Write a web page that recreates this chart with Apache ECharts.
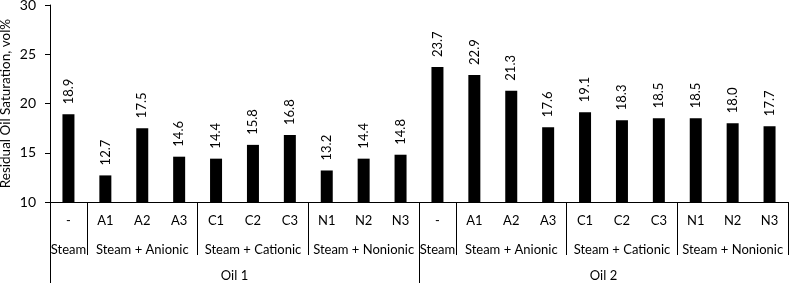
<!DOCTYPE html>
<html><head><meta charset="utf-8">
<script src="https://cdn.jsdelivr.net/npm/echarts@6/dist/echarts.min.js"></script>
<style>html,body{margin:0;padding:0;background:#fff}#c{width:790px;height:283px}</style>
</head><body><div id="c"></div>
<script>
var categories = ['-','A1','A2','A3','C1','C2','C3','N1','N2','N3','-','A1','A2','A3','C1','C2','C3','N1','N2','N3'];
var values = [18.9,12.7,17.5,14.6,14.4,15.8,16.8,13.2,14.4,14.8,23.7,22.9,21.3,17.6,19.1,18.3,18.5,18.5,18.0,17.7];
var groupNames = ['Steam','Steam + Anionic','Steam + Cationic','Steam + Nonionic','Steam','Steam + Anionic','Steam + Cationic','Steam + Nonionic'];
var groupCenters = [0.5,2.5,5.5,8.5,10.5,12.5,15.5,18.5];
var groupBounds = [0,1,4,7,10,11,14,17,20];
var oilNames = ['Oil 1','Oil 2'];
var oilCenters = [5,15];
var oilBounds = [0,10];
var yTicks = {min:10, max:30, interval:5};

var FONT = 'Lato';
var FS = 13;
var chart = echarts.init(document.getElementById('c'), null, {renderer:'canvas'});
chart.setOption({
  animation:false,
  textStyle:{fontFamily:FONT},
  grid:{left:50, right:2, top:5, bottom:81, outerBoundsMode:'none'},
  xAxis:[
    {type:'category', data:categories, position:'bottom',
     axisLine:{lineStyle:{color:'#000',width:1}},
     axisTick:{show:false},
     axisLabel:{interval:0, color:'#000', fontSize:FS, fontFamily:FONT, margin:12}},
    {type:'value', min:0, max:20, position:'bottom', gridIndex:0,
     axisLine:{show:false}, splitLine:{show:false},
     axisTick:{show:true, customValues:groupBounds, length:53, lineStyle:{color:'#000',width:1}},
     axisLabel:{customValues:groupCenters, color:'#000', fontSize:FS, fontFamily:FONT, margin:41,
       formatter:function(v){var i=groupCenters.indexOf(v);return i>=0?groupNames[i]:'';}}},
    {type:'value', min:0, max:20, position:'bottom', gridIndex:0,
     axisLine:{show:false}, splitLine:{show:false},
     axisTick:{show:true, customValues:oilBounds, length:81, lineStyle:{color:'#000',width:1}},
     axisLabel:{customValues:oilCenters, color:'#000', fontSize:FS, fontFamily:FONT, margin:67,
       formatter:function(v){var i=oilCenters.indexOf(v);return i>=0?oilNames[i]:'';}}}
  ],
  yAxis:{type:'value', min:yTicks.min, max:yTicks.max, interval:yTicks.interval,
    name:'Residual Oil Saturation, vol%', nameLocation:'middle', nameGap:37, nameMoveOverlap:false,
    nameTextStyle:{color:'#000', fontSize:13.5, fontFamily:FONT},
    axisLine:{show:true, lineStyle:{color:'#000',width:1}},
    axisTick:{show:true, length:5, lineStyle:{color:'#000'}},
    splitLine:{show:false},
    axisLabel:{color:'#000', fontSize:14, fontFamily:FONT, margin:14}},
  series:[{type:'bar', xAxisIndex:0, data:values, barWidth:12,
    itemStyle:{color:'#000'},
    label:{show:true, position:'top', rotate:90, align:'left', verticalAlign:'middle', distance:10,
      color:'#000', fontSize:FS, fontFamily:FONT,
      formatter:function(p){return p.value.toFixed(1);}}}]
});
</script></body></html>
